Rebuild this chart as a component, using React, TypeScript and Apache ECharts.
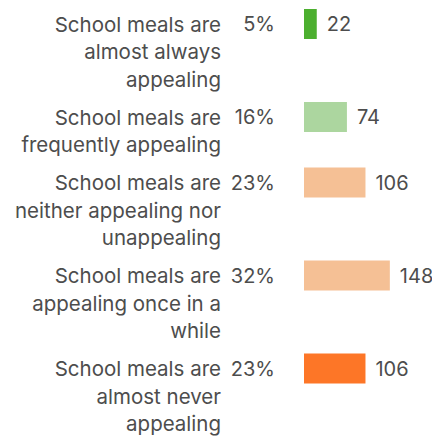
import React, { useEffect, useRef } from "react";
import * as echarts from "echarts";

const categories = [
  "School meals are\nalmost always\nappealing",
  "School meals are\nfrequently appealing",
  "School meals are\nneither appealing nor\nunappealing",
  "School meals are\nappealing once in a\nwhile",
  "School meals are\nalmost never\nappealing",
];
const percents = ["5%", "16%", "23%", "32%", "23%"];
const counts = [22, 74, 106, 148, 106];
const colors = ["#4caf2f", "#acd69f", "#f5c095", "#f5c095", "#fd7627"];

const FONT = "Inter";
const TEXT = "#4d4d4d";
const LINE_H = 27.5;
const ROW_GAP = 10.5;
const BAR_H = 30;
const FIRST_TOP = 9;
const LEFT = 304;
const AXIS_MAX = 200;
const RIGHT = 12;

export default function App() {
  const ref = useRef<HTMLDivElement>(null);
  useEffect(() => {
    if (!ref.current) return;
    const chart = echarts.init(ref.current, undefined, { renderer: "svg" });
    const grids: any[] = [];
    const xAxes: any[] = [];
    const yAxes: any[] = [];
    const series: any[] = [];
    let top = FIRST_TOP;
    categories.forEach((cat, i) => {
      const nLines = cat.split("\n").length;
      grids.push({
        left: LEFT,
        right: RIGHT,
        top,
        height: BAR_H,
        containLabel: false,
        outerBoundsMode: "none",
      });
      xAxes.push({
        type: "value",
        gridIndex: i,
        min: 0,
        max: AXIS_MAX,
        show: false,
      });
      yAxes.push({
        type: "category",
        gridIndex: i,
        data: [cat],
        axisLine: { show: false },
        axisTick: { show: false },
        splitLine: { show: false },
        axisLabel: {
          margin: 83,
          fontFamily: FONT,
          fontSize: 20.5,
          color: TEXT,
          lineHeight: LINE_H,
          align: "right",
          verticalAlign: "middle",
          formatter: (v: string) => "\n".repeat(v.split("\n").length - 1) + v,
        },
      });
      yAxes.push({
        type: "category",
        gridIndex: i,
        position: "left",
        data: [percents[i]],
        axisLine: { show: false },
        axisTick: { show: false },
        splitLine: { show: false },
        axisLabel: {
          margin: 29,
          fontFamily: FONT,
          fontSize: 20,
          color: TEXT,
          align: "right",
        },
      });
      series.push({
        type: "bar",
        xAxisIndex: i,
        yAxisIndex: i * 2,
        barWidth: BAR_H,
        data: [{ value: counts[i], itemStyle: { color: colors[i] } }],
        label: {
          show: true,
          position: "right",
          distance: 10,
          fontFamily: FONT,
          fontSize: 20,
          color: TEXT,
          formatter: "{c}",
        },
      });
      top += nLines * LINE_H + ROW_GAP;
    });
    chart.setOption({
      animation: false,
      grid: grids,
      xAxis: xAxes,
      yAxis: yAxes,
      series,
    });
    return () => chart.dispose();
  }, []);
  return (
    <div
      ref={ref}
      style={{ width: 432, height: 436, position: "absolute", left: 0, top: 0 }}
    />
  );
}
